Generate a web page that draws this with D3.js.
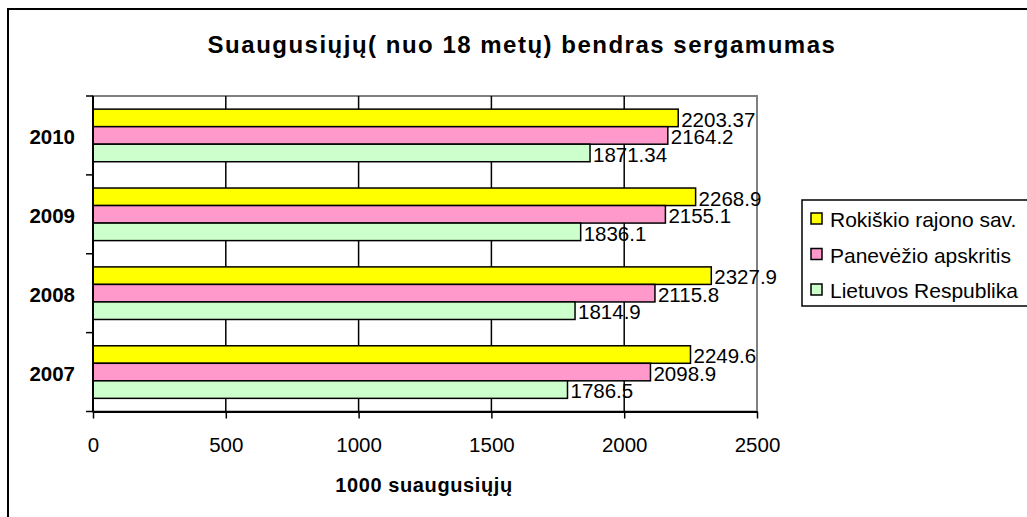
<!DOCTYPE html>
<html lang="lt">
<head>
  <meta charset="UTF-8">
  <title>Suaugusiųjų bendras sergamumas</title>
  <style>
    body {
      margin: 0;
      padding: 0;
      background-color: #ffffff;
      font-family: "Liberation Sans", Arial, sans-serif;
    }
    svg text {
      fill: #000;
    }
  </style>
</head>
<body>
<div id="chart"></div>
<script src="https://d3js.org/d3.v7.min.js"></script>
<script>
  // chart data
  const years = ["2010", "2009", "2008", "2007"];
  const seriesNames = ["Rokiškio rajono sav.", "Panevėžio apskritis", "Lietuvos Respublika"];
  const rokiskis = [2203.37, 2268.9, 2327.9, 2249.6];
  const panevezys = [2164.2, 2155.1, 2115.8, 2098.9];
  const lietuva = [1871.34, 1836.1, 1814.9, 1786.5];
  const labels = [
    ["2203.37", "2164.2", "1871.34"],
    ["2268.9", "2155.1", "1836.1"],
    ["2327.9", "2115.8", "1814.9"],
    ["2249.6", "2098.9", "1786.5"]
  ];
  const xTicks = [0, 500, 1000, 1500, 2000, 2500];
  const colors = ["#ffff00", "#ff99cc", "#ccffcc"];

  const width = 1027;
  const height = 517;
  const plot = { left: 93, right: 757, top: 96, bottom: 411.5 };

  const svg = d3.select("#chart").append("svg")
    .attr("width", width)
    .attr("height", height);

  // outer chart border
  svg.append("rect")
    .attr("x", 8).attr("y", 9)
    .attr("width", 1030).attr("height", 520)
    .attr("fill", "#fff")
    .attr("stroke", "#000")
    .attr("stroke-width", 2);

  const x = d3.scaleLinear().domain([0, 2500]).range([plot.left, plot.right]);
  const y = d3.scaleBand().domain(years).range([plot.top, plot.bottom]);
  const ySeries = d3.scaleBand().domain(d3.range(3)).range([0, y.bandwidth()]).paddingOuter(0.75);

  // plot area border (top / right)
  svg.append("rect")
    .attr("x", plot.left).attr("y", plot.top)
    .attr("width", plot.right - plot.left).attr("height", plot.bottom - plot.top)
    .attr("fill", "none")
    .attr("stroke", "#808080")
    .attr("stroke-width", 2);

  // vertical gridlines
  svg.append("g")
    .selectAll("line")
    .data(xTicks.slice(1, -1))
    .enter().append("line")
    .attr("x1", d => x(d)).attr("x2", d => x(d))
    .attr("y1", plot.top).attr("y2", plot.bottom)
    .attr("stroke", "#000")
    .attr("stroke-width", 1.5);

  // bars
  const rows = years.map((yr, i) => ({
    year: yr,
    values: [rokiskis[i], panevezys[i], lietuva[i]],
    labels: labels[i]
  }));

  const groups = svg.append("g")
    .selectAll("g")
    .data(rows)
    .enter().append("g")
    .attr("transform", d => `translate(0,${y(d.year)})`);

  groups.selectAll("rect")
    .data(d => d.values.map((v, k) => ({ v, k })))
    .enter().append("rect")
    .attr("x", x(0))
    .attr("y", d => ySeries(d.k))
    .attr("width", d => x(d.v) - x(0))
    .attr("height", ySeries.bandwidth())
    .attr("fill", d => colors[d.k])
    .attr("stroke", "#000")
    .attr("stroke-width", 1.5);

  groups.selectAll("text")
    .data(d => d.values.map((v, k) => ({ v, k, label: d.labels[k] })))
    .enter().append("text")
    .attr("x", d => x(d.v) + 3)
    .attr("y", d => ySeries(d.k) + ySeries.bandwidth())
    .attr("font-size", "20.5px")
    .text(d => d.label);

  // x axis
  const xAxis = svg.append("g")
    .attr("transform", `translate(0,${plot.bottom})`)
    .call(d3.axisBottom(x).tickValues(xTicks).tickFormat(d3.format("d")).tickSize(7).tickSizeOuter(0).tickPadding(19));
  xAxis.select(".domain").attr("stroke", "#000").attr("stroke-width", 2);
  xAxis.selectAll(".tick line").attr("stroke", "#000").attr("stroke-width", 1.5);
  xAxis.selectAll(".tick text")
    .attr("font-family", "'Liberation Sans', Arial, sans-serif")
    .attr("font-size", "20.5px")
    .attr("fill", "#000");

  // y axis line and ticks at category boundaries
  svg.append("line")
    .attr("x1", plot.left).attr("x2", plot.left)
    .attr("y1", plot.top).attr("y2", plot.bottom)
    .attr("stroke", "#000").attr("stroke-width", 2);

  const boundaries = years.map(yr => y(yr)).concat([y(years[years.length - 1]) + y.bandwidth()]);
  svg.append("g")
    .selectAll("line")
    .data(boundaries)
    .enter().append("line")
    .attr("x1", plot.left - 7).attr("x2", plot.left)
    .attr("y1", d => d).attr("y2", d => d)
    .attr("stroke", "#000").attr("stroke-width", 1.5);

  svg.append("g")
    .selectAll("text")
    .data(years)
    .enter().append("text")
    .attr("x", 75)
    .attr("y", d => y(d) + y.bandwidth() / 2 + 8.5)
    .attr("text-anchor", "end")
    .attr("font-weight", "bold")
    .attr("font-size", "20.5px")
    .text(d => d);

  // title
  svg.append("text")
    .attr("x", 522).attr("y", 53)
    .attr("text-anchor", "middle")
    .attr("font-weight", "bold")
    .attr("font-size", "24px")
    .attr("letter-spacing", "1.5px")
    .text("Suaugusiųjų( nuo 18 metų) bendras sergamumas");

  // x axis title
  svg.append("text")
    .attr("x", 424).attr("y", 492)
    .attr("text-anchor", "middle")
    .attr("font-weight", "bold")
    .attr("font-size", "20px")
    .attr("letter-spacing", "0.6px")
    .text("1000 suaugusiųjų");

  // legend
  const legend = svg.append("g").attr("transform", "translate(802,200)");
  legend.append("rect")
    .attr("x", 0).attr("y", 0)
    .attr("width", 240).attr("height", 106)
    .attr("fill", "#fff")
    .attr("stroke", "#000")
    .attr("stroke-width", 1.5);

  const items = legend.selectAll("g.item")
    .data(seriesNames)
    .enter().append("g")
    .attr("class", "item")
    .attr("transform", (d, i) => `translate(0,${27 + i * 35.5})`);

  items.append("rect")
    .attr("x", 9).attr("y", -14)
    .attr("width", 11).attr("height", 11)
    .attr("fill", (d, i) => colors[i])
    .attr("stroke", "#000")
    .attr("stroke-width", 1.5);

  items.append("text")
    .attr("x", 28).attr("y", 0)
    .attr("font-size", "21px")
    .text(d => d);
</script>
</body>
</html>
